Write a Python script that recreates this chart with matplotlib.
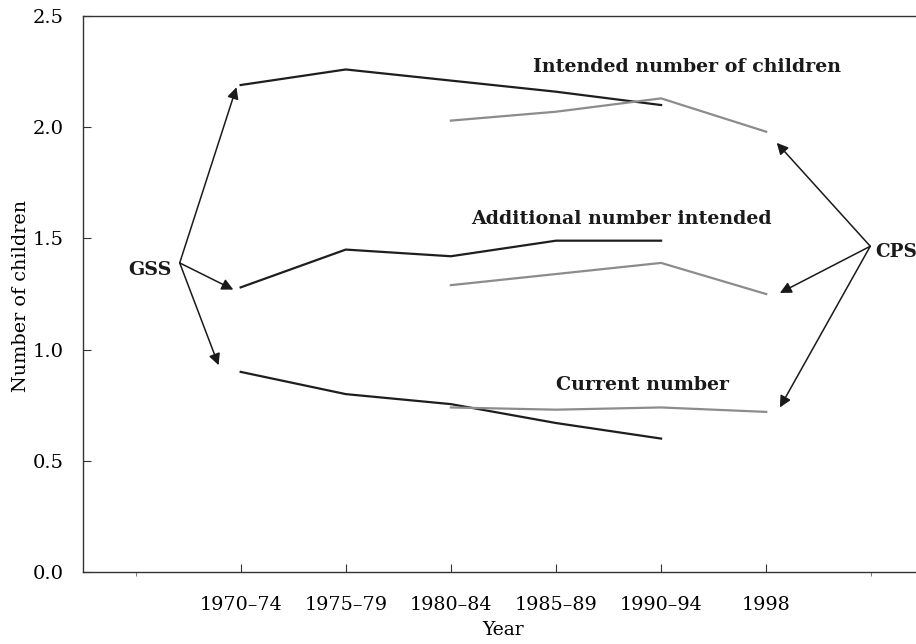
import matplotlib
matplotlib.use('Agg')
import matplotlib.pyplot as plt

periods = ['1970–74', '1975–79', '1980–84', '1985–89', '1990–94', '1998']

# GSS series (1970-74 .. 1990-94)
gss_intended = [2.19, 2.26, 2.21, 2.16, 2.10]
gss_additional = [1.28, 1.45, 1.42, 1.49, 1.49]
gss_current = [0.90, 0.80, 0.755, 0.67, 0.60]

# CPS series (1980-84 .. 1998)
cps_intended = [2.03, 2.07, 2.13, 1.98]
cps_additional = [1.29, 1.34, 1.39, 1.25]
cps_current = [0.74, 0.73, 0.74, 0.72]

plt.rcParams['font.family'] = ['DejaVu Serif']

fig = plt.figure(figsize=(9.16, 6.44), dpi=100)
ax = fig.add_axes([0.0906, 0.1118, 0.918, 0.8632])

x_gss = list(range(5))
x_cps = list(range(2, 6))
dark = '#1e1e1e'
grey = '#8c8c8c'

for ys in (gss_intended, gss_additional, gss_current):
    ax.plot(x_gss, ys, color=dark, lw=1.6)
for ys in (cps_intended, cps_additional, cps_current):
    ax.plot(x_cps, ys, color=grey, lw=1.6)

ax.set_xlim(-1.5, 6.5)
ax.set_ylim(0, 2.5)
ax.set_xticks(range(len(periods)))
ax.set_xticklabels(periods)
ax.set_xticks([-1, 6], minor=True)
ax.tick_params(axis='x', which='major', direction='in', length=6, pad=17,
               labelsize=13.8, color='#333333')
ax.tick_params(axis='x', which='minor', direction='out', length=3, color='#666666')
ax.set_yticks([0, 0.5, 1.0, 1.5, 2.0, 2.5])
ax.set_yticklabels(['0.0', '0.5', '1.0', '1.5', '2.0', '2.5'])
ax.tick_params(axis='y', direction='in', length=6, pad=14, labelsize=14,
               color='#333333')
ax.spines['right'].set_visible(False)
for s in ('left', 'bottom', 'top'):
    ax.spines[s].set_color('#333333')
    ax.spines[s].set_linewidth(1.0)

ax.set_xlabel('Year', fontsize=13.5)
ax.xaxis.set_label_coords(0.5, -0.088)
ax.set_ylabel('Number of children', fontsize=13.8)
ax.yaxis.set_label_coords(-0.063, 0.496)

lbl = dict(fontsize=13.7, fontweight='bold', ha='center', va='center', color='#1a1a1a')
ax.text(4.25, 2.27, 'Intended number of children', **lbl)
ax.text(3.62, 1.587, 'Additional number intended', **lbl)
ax.text(3.82, 0.84, 'Current number', **lbl)
ax.text(-0.86, 1.36, 'GSS', **lbl)
ax.text(6.04, 1.44, 'CPS', fontsize=13.2, fontweight='bold', ha='left',
        va='center', color='#1a1a1a')

arr = dict(arrowstyle='-|>', color='#1a1a1a', lw=1.1, mutation_scale=17,
           shrinkA=0, shrinkB=0)
gss_origin = (-0.58, 1.39)
for tgt in [(-0.04, 2.18), (-0.07, 1.27), (-0.21, 0.93)]:
    ax.annotate('', xy=tgt, xytext=gss_origin, arrowprops=arr, annotation_clip=False)
cps_origin = (5.99, 1.465)
for tgt in [(5.10, 1.93), (5.13, 1.255), (5.13, 0.74)]:
    ax.annotate('', xy=tgt, xytext=cps_origin, arrowprops=arr, annotation_clip=False)

fig.savefig('out.png', dpi=100)
